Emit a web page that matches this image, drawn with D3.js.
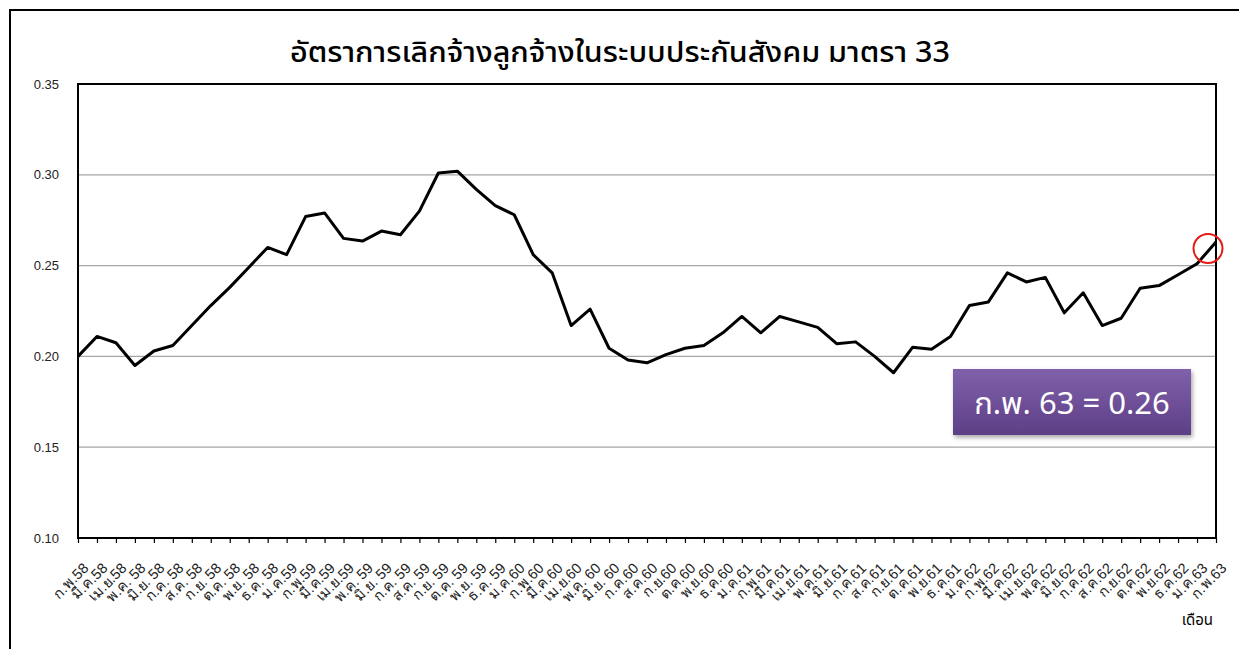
<!DOCTYPE html>
<html>
<head>
<meta charset="utf-8">
<script src="https://cdnjs.cloudflare.com/ajax/libs/d3/7.8.5/d3.min.js"></script>
<style>
  body { margin: 0; background: #fff; }
  svg { font-family: 'Noto Sans Thai', 'Noto Sans', 'DejaVu Sans', sans-serif; }
</style>
</head>
<body>
<svg></svg>
<script>
const months = [
  'ก.พ.58', 'มี.ค.58', 'เม.ย.58', 'พ.ค. 58', 'มิ.ย. 58', 'ก.ค. 58', 'ส.ค. 58', 'ก.ย. 58', 'ต.ค. 58', 'พ.ย. 58', 'ธ.ค. 58',
  'ม.ค.59', 'ก.พ.59', 'มี.ค.59', 'เม.ย.59', 'พ.ค. 59', 'มิ.ย. 59', 'ก.ค. 59', 'ส.ค. 59', 'ก.ย. 59', 'ต.ค. 59', 'พ.ย. 59', 'ธ.ค. 59',
  'ม.ค.60', 'ก.พ.60', 'มี.ค.60', 'เม.ย.60', 'พ.ค. 60', 'มิ.ย. 60', 'ก.ค.60', 'ส.ค.60', 'ก.ย.60', 'ต.ค.60', 'พ.ย.60', 'ธ.ค.60',
  'ม.ค.61', 'ก.พ.61', 'มี.ค.61', 'เม.ย.61', 'พ.ค.61', 'มิ.ย.61', 'ก.ค.61', 'ส.ค.61', 'ก.ย.61', 'ต.ค.61', 'พ.ย.61', 'ธ.ค.61',
  'ม.ค.62', 'ก.พ.62', 'มี.ค.62', 'เม.ย.62', 'พ.ค.62', 'มิ.ย.62', 'ก.ค.62', 'ส.ค.62', 'ก.ย.62', 'ต.ค.62', 'พ.ย.62', 'ธ.ค.62',
  'ม.ค.63', 'ก.พ.63'
]

const rates = [
  0.200, 0.211, 0.2075, 0.195, 0.203, 0.206, 0.217, 0.228, 0.238, 0.249, 0.260,
  0.256, 0.277, 0.279, 0.265, 0.2635, 0.269, 0.267, 0.280, 0.301, 0.302, 0.292, 0.283,
  0.278, 0.256, 0.246, 0.217, 0.226, 0.2045, 0.198, 0.1965, 0.201, 0.2045, 0.206, 0.213,
  0.222, 0.213, 0.222, 0.219, 0.216, 0.207, 0.208, 0.200, 0.191, 0.205, 0.204, 0.211,
  0.228, 0.230, 0.246, 0.241, 0.2435, 0.224, 0.235, 0.217, 0.221, 0.2375, 0.239, 0.245,
  0.251, 0.263
]

const yTicks = [0.10, 0.15, 0.20, 0.25, 0.30, 0.35]

const title = 'อัตราการเลิกจ้างลูกจ้างในระบบประกันสังคม มาตรา 33'
const xTitle = 'เดือน'
const note = 'ก.พ. 63 = 0.26'

let width = 1239
let height = 649
let plotLeft = 78
let plotRight = 1216
let plotTop = 84
let plotBottom = 538

let svg = d3.select('svg')
  .attr('width', width)
  .attr('height', height)

let horScale = d3.scalePoint()
  .domain(months)
  .range([plotLeft, plotRight])

let vertScale = d3.scaleLinear()
  .domain([0.10, 0.35])
  .range([plotBottom, plotTop])

// outer frame of the slide picture
svg.append('path')
  .attr('d', `M10,${height + 5} L10,10 L${width + 5},10`)
  .attr('fill', 'none')
  .attr('stroke', '#000')
  .attr('stroke-width', 2)

svg.append('text')
  .text(title)
  .attr('x', 620)
  .attr('y', 62)
  .attr('text-anchor', 'middle')
  .attr('font-size', 28)
  .attr('font-weight', 500)
  .attr('textLength', 660)
  .attr('lengthAdjust', 'spacingAndGlyphs')
  .attr('fill', '#000')

// grid
svg.append('g')
  .selectAll('line')
  .data(yTicks.slice(1, -1))
  .enter()
  .append('line')
  .attr('x1', plotLeft)
  .attr('x2', plotRight)
  .attr('y1', d => vertScale(d))
  .attr('y2', d => vertScale(d))
  .attr('stroke', '#a6a6a6')
  .attr('stroke-width', 1.2)

// y axis labels
let yAxis = d3.axisLeft(vertScale)
  .tickValues(yTicks)
  .tickFormat(d3.format('.2f'))
  .tickSize(0)
  .tickPadding(19)

svg.append('g')
  .attr('transform', `translate(${plotLeft}, 0)`)
  .call(yAxis)
  .call(g => g.select('.domain').remove())
  .selectAll('text')
  .attr('font-size', 13)
  .attr('fill', '#222')

// x axis
let xAxis = d3.axisBottom(horScale)
  .tickSize(5)

let xg = svg.append('g')
  .attr('transform', `translate(0, ${plotBottom})`)
  .call(xAxis)

xg.select('.domain').remove()
xg.selectAll('line').attr('stroke', '#000').attr('stroke-width', 1.2)
xg.selectAll('text')
  .attr('font-size', 14.5)
  .attr('fill', '#222')
  .attr('text-anchor', 'end')
  .attr('dy', 0)
  .attr('y', 0)
  .attr('x', 0)
  .attr('transform', 'translate(11, 31) rotate(-45)')

svg.append('text')
  .text(xTitle)
  .attr('x', 1213)
  .attr('y', 625)
  .attr('text-anchor', 'end')
  .attr('font-size', 15)
  .attr('fill', '#000')

// plot frame
svg.append('rect')
  .attr('x', plotLeft)
  .attr('y', plotTop)
  .attr('width', plotRight - plotLeft)
  .attr('height', plotBottom - plotTop)
  .attr('fill', 'none')
  .attr('stroke', '#000')
  .attr('stroke-width', 2)

let line = d3.line()
  .x((d, i) => horScale(months[i]))
  .y(d => vertScale(d))

svg.append('path')
  .datum(rates)
  .attr('d', line)
  .attr('fill', 'none')
  .attr('stroke', '#000')
  .attr('stroke-width', 3)
  .attr('stroke-linejoin', 'round')

// mark on the last month
let last = rates.length - 1
svg.append('circle')
  .attr('cx', horScale(months[last]) - 8)
  .attr('cy', vertScale(0.26) + 1)
  .attr('r', 14.5)
  .attr('fill', 'none')
  .attr('stroke', '#e41b17')
  .attr('stroke-width', 2)

// callout box
let defs = svg.append('defs')
let grad = defs.append('linearGradient')
  .attr('id', 'boxFill')
  .attr('x1', 0).attr('y1', 0).attr('x2', 0).attr('y2', 1)
grad.append('stop').attr('offset', '0%').attr('stop-color', '#8060ab')
grad.append('stop').attr('offset', '100%').attr('stop-color', '#5d3f86')

let shadow = defs.append('filter')
  .attr('id', 'shadow')
  .attr('x', '-10%').attr('y', '-10%').attr('width', '130%').attr('height', '140%')
shadow.append('feDropShadow')
  .attr('dx', 1.5).attr('dy', 2.5).attr('stdDeviation', 2)
  .attr('flood-color', '#000').attr('flood-opacity', 0.35)

svg.append('rect')
  .attr('x', 953)
  .attr('y', 369)
  .attr('width', 238)
  .attr('height', 66)
  .attr('fill', 'url(#boxFill)')
  .attr('filter', 'url(#shadow)')

svg.append('text')
  .text(note)
  .attr('x', 1072)
  .attr('y', 414)
  .attr('text-anchor', 'middle')
  .attr('font-size', 31)
  .attr('fill', '#fff')
</script>
</body>
</html>
